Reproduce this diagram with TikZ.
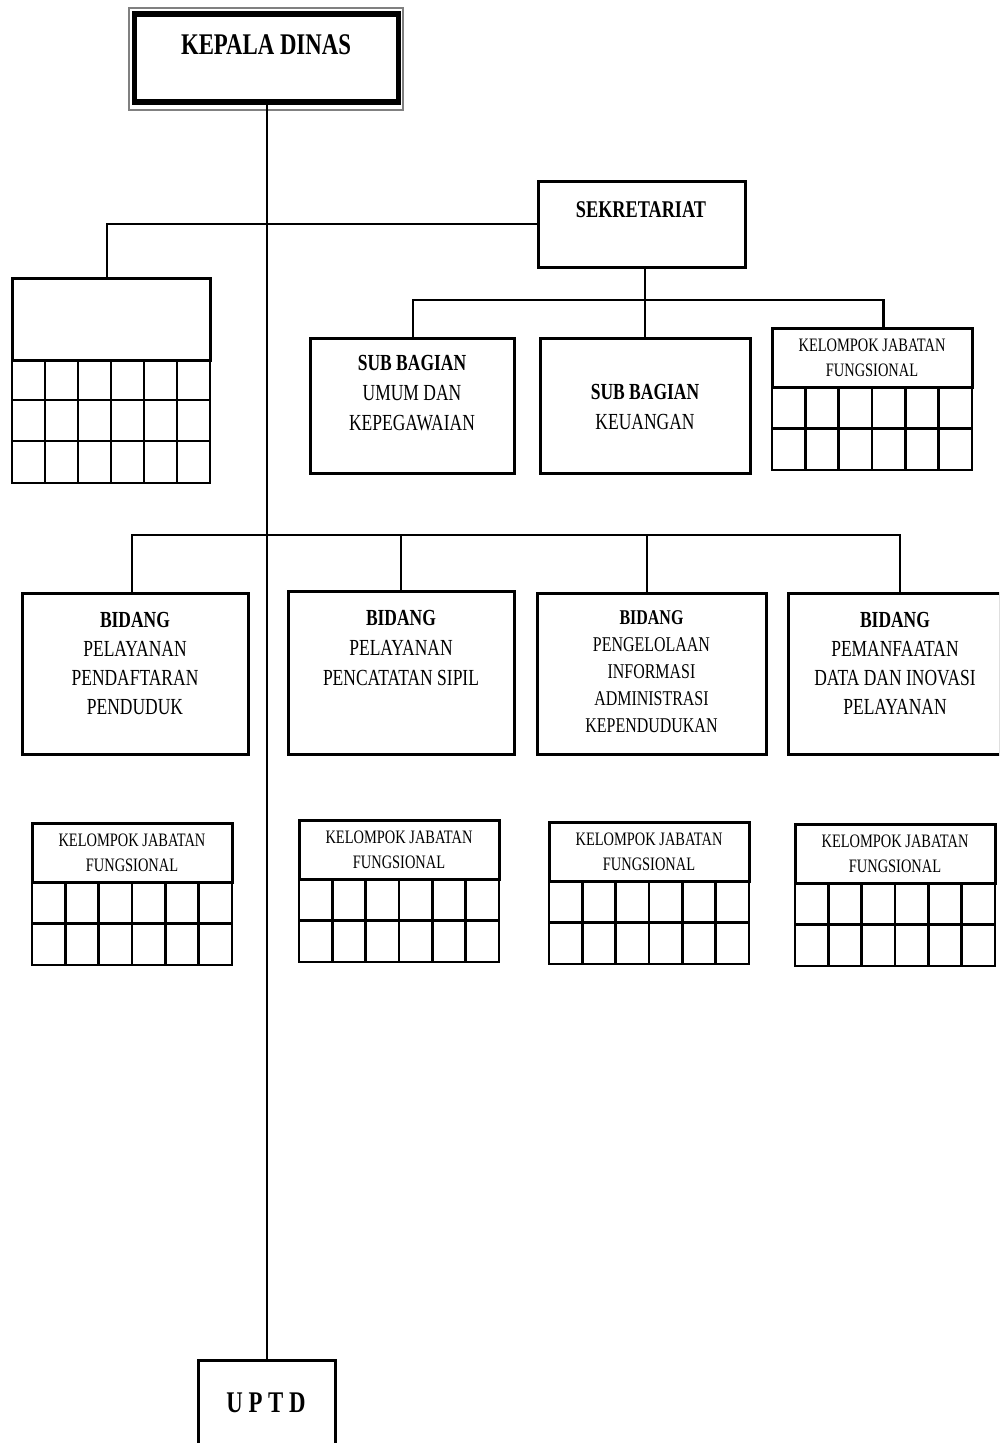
\documentclass[tikz,border=0pt]{standalone}
\usepackage{fontspec}
\setmainfont{Liberation Serif}[FakeStretch=0.76]

\begin{document}
\begin{tikzpicture}
[x=1pt,y=-1pt,
 box/.style={draw,line width=3pt,inner sep=0pt,outer sep=0pt},
 txt/.style={align=center,inner sep=0pt},
 link/.style={line width=2.5pt},
 cell/.style={line width=2.5pt},
 kjf/.pic={
  \node[box,anchor=north west,minimum width=200,minimum height=59,align=center,
        font=\fontsize{19}{25}\selectfont] (-head) at (0,0) {KELOMPOK JABATAN\\FUNGSIONAL};
  \draw[cell] (0,59) rectangle (200,142);
  \draw[cell] (0,100.5) -- (200,100.5);
  \foreach \i in {1,...,5} \draw[cell] (\i*33.33,59) -- (\i*33.33,142);
 }]
\clip (0,0) rectangle (999,1443);
\fill[white] (0,0) rectangle (999,1443);
% top
\node[draw=gray,line width=1.5pt,minimum width=274,minimum height=102] (kepalaout) at (266,59) {};
\node[draw,line width=5.5pt,minimum width=264,minimum height=88] (kepala) at (266.5,58) {};
\node[txt,font=\bfseries\fontsize{30}{36}\selectfont] (kepalatxt) at (266,45) {KEPALA DINAS};
\node[box,minimum width=137,minimum height=110] (uptd) at (266.5,1415) {};
\node[txt,font=\bfseries\fontsize{30}{36}\selectfont] (uptdtxt) at (266,1403) {U P T D};
% sekretariat
\node[box,minimum width=207,minimum height=86] (sekr) at (641.5,224) {};
\node[txt,font=\bfseries\fontsize{24}{30}\selectfont] (sekrtxt) at (641,210) {SEKRETARIAT};
\node[box,minimum width=198,minimum height=82] (lbox) at (111,319) {};
\draw[cell] (12,360) rectangle (210,483);
\foreach \y in {400,441} \draw[cell] (12,\y) -- (210,\y);
\foreach \i in {1,...,5} \draw[cell] (12+\i*33,360) -- (12+\i*33,483);
\node[box,minimum width=204,minimum height=135] (sub1) at (412,405.5) {};
\node[txt,font=\fontsize{23}{30}\selectfont] (sub1txt) at (412,393.5) {\textbf{SUB BAGIAN}\\UMUM DAN\\KEPEGAWAIAN};
\node[box,minimum width=210,minimum height=135] (sub2) at (645,405.5) {};
\node[txt,font=\fontsize{23}{30}\selectfont] (sub2txt) at (645,406.5) {\textbf{SUB BAGIAN}\\KEUANGAN};
\pic (kjf0) at (772,328) {kjf};
% bidang
\node[box,minimum width=226,minimum height=161] (bid1) at (135,673.5) {};
\node[txt,font=\fontsize{23}{29}\selectfont] (bid1txt) at (135,663.5) {\textbf{BIDANG}\\PELAYANAN\\PENDAFTARAN\\PENDUDUK};
\node[box,minimum width=226,minimum height=163] (bid2) at (401,672.5) {};
\node[txt,font=\fontsize{23}{30}\selectfont] (bid2txt) at (401,647.5) {\textbf{BIDANG}\\PELAYANAN\\PENCATATAN SIPIL};
\node[box,minimum width=229,minimum height=161] (bid3) at (651.5,673.5) {};
\node[txt,font=\fontsize{21}{27}\selectfont] (bid3txt) at (651.5,671.5) {\textbf{BIDANG}\\PENGELOLAAN\\INFORMASI\\ADMINISTRASI\\KEPENDUDUKAN};
\node[box,minimum width=212,minimum height=161] (bid4) at (894,673.5) {};
\node[txt,font=\fontsize{23}{29}\selectfont] (bid4txt) at (895,663.5) {\textbf{BIDANG}\\PEMANFAATAN\\DATA DAN INOVASI\\PELAYANAN};
\pic (kjf1) at (32,823) {kjf};
\pic (kjf2) at (299,820) {kjf};
\pic (kjf3) at (549,822) {kjf};
\pic (kjf4) at (795,824) {kjf};
% lines
\coordinate (sbus) at (645,300);
\coordinate (bbus) at (266,535);
\draw[line width=2pt] (kepala.south) -- (uptd.north);
\draw[link] (sekr.west) -| ([xshift=-4pt]lbox.north);
\draw[link] ([xshift=3.5pt]sekr.south) -- (sbus);
\foreach \to/\dx in {sub1/1,sub2/0,kjf0-head/11.5}
\draw[link] ([xshift=\dx pt]\to.north) |- (sbus);
\foreach \to/\dx in {bid1/-3,bid2/0,bid3/-4.5,bid4/6}
\draw[link] ([xshift=\dx pt]\to.north) |- (bbus);
\end{tikzpicture}
\end{document}
